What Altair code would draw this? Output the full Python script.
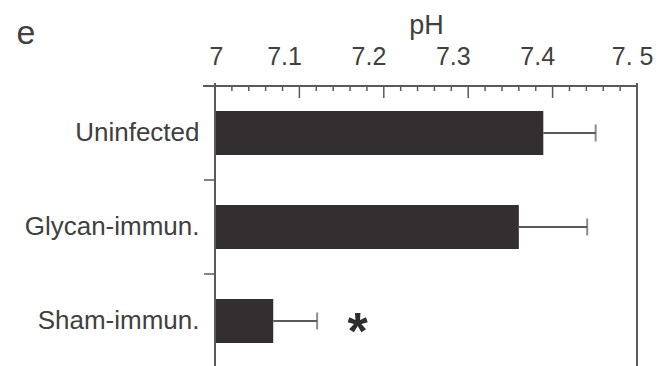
import altair as alt
import pandas as pd

# data
groups = ["Uninfected", "Glycan-immun.", "Sham-immun."]
ph_mean = [7.389, 7.360, 7.069]
ph_err_hi = [7.451, 7.441, 7.121]
sig_marks = ["", "", "*"]
sig_x = [7.169, 7.169, 7.169]

tick_values = [7.0, 7.1, 7.2, 7.3, 7.4, 7.5]
tick_labels = ["7", "7.1", "7.2", "7.3", "7.4", "7. 5"]
minor_ticks = [7.02, 7.04, 7.06, 7.08, 7.12, 7.14, 7.16, 7.18, 7.22, 7.24, 7.26, 7.28,
               7.32, 7.34, 7.36, 7.38, 7.42, 7.44, 7.46, 7.48]
major_ticks = [7.1, 7.2, 7.3, 7.4]

W, H = 422, 282
FONT = "Liberation Sans"
TXT = "#404040"
LINE = "#5a5a5a"
BAR = "#332f31"

df = pd.DataFrame({"group": groups, "mean": ph_mean, "hi": ph_err_hi,
                   "sig": sig_marks, "sx": sig_x})
df_minor = pd.DataFrame({"v": minor_ticks})
df_major = pd.DataFrame({"v": major_ticks})

xscale = alt.Scale(domain=[7.0, 7.5], zero=False, nice=False)
yscale = alt.Scale(domain=groups, paddingInner=0, paddingOuter=0)

vals_js = "[" + ",".join(str(v) for v in tick_values) + "]"
labs_js = "[" + ",".join("'" + s + "'" for s in tick_labels) + "]"

xaxis = alt.Axis(
    orient="top", values=tick_values, ticks=False, tickSize=0, domain=False, grid=False,
    labelExpr=f"{labs_js}[indexof({vals_js}, datum.value)]",
    labelAlign={"expr": "datum.value == 7 ? 'center' : 'right'"},
    labelOffset={"expr": "datum.value == 7 ? 1 : (datum.value == 7.5 ? 16 : 2)"},
    labelFont=FONT, labelFontSize=25, labelColor=TXT, labelPadding=22,
    labelBaseline="alphabetic",
    title="pH", titleFont=FONT, titleFontSize=27, titleFontWeight="normal",
    titleColor=TXT, titleBaseline="alphabetic", titleY=-53,
)
yaxis = alt.Axis(
    title=None, ticks=False, tickSize=0, domain=False, grid=False,
    labelFont=FONT, labelFontSize=26, labelColor=TXT, labelPadding=16,
)

base = alt.Chart(df)

bars = base.mark_bar(color=BAR, size=44).encode(
    x=alt.X("mean:Q", scale=xscale, axis=xaxis),
    x2=alt.datum(7.0),
    y=alt.Y("group:N", scale=yscale, axis=yaxis, sort=groups),
)

err = base.mark_rule(color=LINE, strokeWidth=2).encode(
    x=alt.X("mean:Q", scale=xscale),
    x2="hi:Q",
    y=alt.Y("group:N", scale=yscale, sort=groups),
)

caps = base.mark_tick(color=LINE, thickness=2, size=17, orient="vertical").encode(
    x=alt.X("hi:Q", scale=xscale),
    y=alt.Y("group:N", scale=yscale, sort=groups),
)

stars = base.mark_text(font=FONT, fontSize=52, fontWeight="bold", color="#2e2e2e",
                       baseline="middle", align="center", dy=12).encode(
    x=alt.X("sx:Q", scale=xscale),
    y=alt.Y("group:N", scale=yscale, sort=groups),
    text="sig:N",
)

# frame lines
top_line = alt.Chart(df).mark_rule(color=LINE, strokeWidth=2).encode(
    x=alt.value(-12), x2=alt.value(W), y=alt.value(0))
left_line = alt.Chart(df).mark_rule(color=LINE, strokeWidth=2).encode(
    x=alt.value(0), y=alt.value(-3), y2=alt.value(H + 10))
right_line = alt.Chart(df).mark_rule(color=LINE, strokeWidth=2).encode(
    x=alt.value(W), y=alt.value(-3), y2=alt.value(H + 10))

minor = alt.Chart(df_minor).mark_rule(color=LINE, strokeWidth=1.5).encode(
    x=alt.X("v:Q", scale=xscale), y=alt.value(0), y2=alt.value(5))
major = alt.Chart(df_major).mark_rule(color=LINE, strokeWidth=1.5).encode(
    x=alt.X("v:Q", scale=xscale), y=alt.value(0), y2=alt.value(12))

ytick = base.mark_rule(color=LINE, strokeWidth=1.5).encode(
    y=alt.Y("group:N", scale=yscale, sort=groups, bandPosition=0),
    x=alt.value(-11), x2=alt.value(0),
)

letter = alt.Chart(pd.DataFrame({"t": ["e"]})).mark_text(
    font=FONT, fontSize=34, color=TXT, align="center", baseline="middle").encode(
    text="t:N", x=alt.value(-189), y=alt.value(-52))

chart = alt.layer(bars, err, caps, stars, minor, major, ytick,
                  top_line, left_line, right_line, letter).properties(
    width=W, height=H,
    autosize=alt.AutoSizeParams(type="none"),
    padding={"left": 215, "top": 86, "right": 24, "bottom": 0},
    background="white",
).configure_view(stroke=None)

chart.save("out.html", embed_options={"renderer": "svg", "actions": False})
